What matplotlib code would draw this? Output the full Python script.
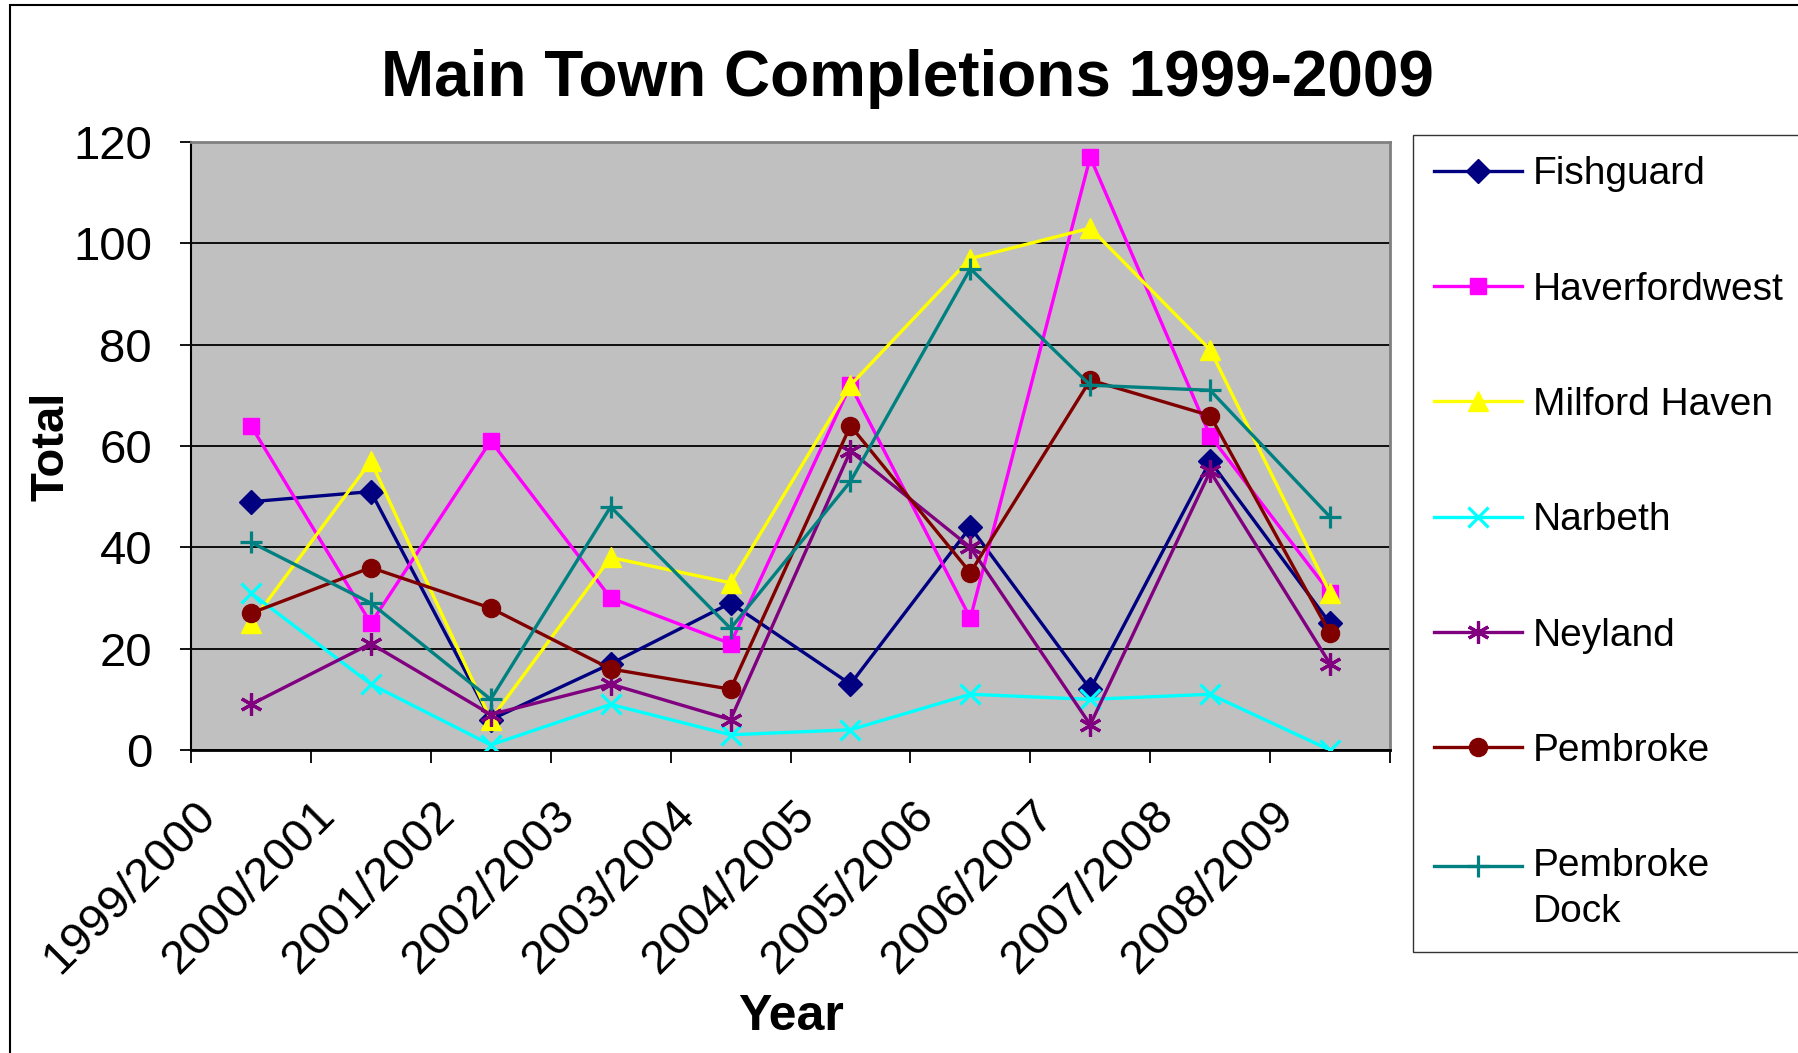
import matplotlib
import matplotlib.pyplot as plt
import matplotlib.transforms as mtransforms
from matplotlib.patches import Rectangle
import numpy as np

matplotlib.use("Agg")

plt.rcParams["font.family"] = ["Liberation Sans", "DejaVu Sans"]

years = ["1999/2000", "2000/2001", "2001/2002", "2002/2003", "2003/2004",
         "2004/2005", "2005/2006", "2006/2007", "2007/2008", "2008/2009"]

fishguard = [49, 51, 6, 17, 29, 13, 44, 12, 57, 25]
haverfordwest = [64, 25, 61, 30, 21, 72, 26, 117, 62, 31]
milford_haven = [25, 57, 6, 38, 33, 72, 97, 103, 79, 31]
narbeth = [31, 13, 1, 9, 3, 4, 11, 10, 11, 0]
neyland = [9, 21, 7, 13, 6, 59, 40, 5, 55, 17]
pembroke = [27, 36, 28, 16, 12, 64, 35, 73, 66, 23]
pembroke_dock = [41, 29, 10, 48, 24, 53, 95, 72, 71, 46]

series = [
    ("Fishguard", fishguard, "#000080", "D", 12, 1),
    ("Haverfordwest", haverfordwest, "#FF00FF", "s", 12, 1),
    ("Milford Haven", milford_haven, "#FFFF00", "^", 14, 1),
    ("Narbeth", narbeth, "#00FFFF", "x", 14, 2.3),
    ("Neyland", neyland, "#800080", (6, 2, 0), 16, 2.3),
    ("Pembroke", pembroke, "#800000", "o", 13, 1),
    ("Pembroke\nDock", pembroke_dock, "#008080", "+", 16, 2.3),
]

W, H = 1798, 1053
fig = plt.figure(figsize=(W / 100, H / 100), dpi=100)
ax = fig.add_axes([191 / W, 1 - 750 / H, (1390 - 191) / W, (750 - 142) / H])
ax.set_facecolor("#C0C0C0")

x = np.arange(len(years))
for name, values, color, marker, ms, mew in series:
    ax.plot(x, values, color=color, lw=2.4, marker=marker, ms=ms,
            mfc=color, mec=color, mew=mew, label=name, zorder=3)

ax.set_xlim(-0.5, len(years) - 0.5)
ax.set_ylim(0, 120)
ax.set_yticks(np.arange(0, 121, 20))
ax.yaxis.grid(True, color="black", lw=1.3)
ax.set_axisbelow(True)

ax.set_xticks(np.arange(-0.5, len(years), 1.0))
ax.set_xticklabels([])
ax.set_xticks(x, minor=True)
ax.set_xticklabels(years, minor=True, rotation=45, ha="right", va="top",
                   rotation_mode="anchor", fontsize=34)
ax.tick_params(axis="x", which="major", length=9, width=1.3, direction="out")
ax.tick_params(axis="x", which="minor", length=0, pad=31)
ax.tick_params(axis="y", length=8, width=1.3, direction="out", labelsize=34, pad=20)

# excel puts the rotated labels a little left of the category centre
shift = mtransforms.ScaledTranslation(-58 / 100, 0, fig.dpi_scale_trans)
for label in ax.get_xticklabels(minor=True):
    label.set_transform(label.get_transform() + shift)

for side in ["top", "right"]:
    ax.spines[side].set_color("#808080")
    ax.spines[side].set_linewidth(2)
ax.spines["left"].set_color("black")
ax.spines["left"].set_linewidth(1.5)
ax.spines["bottom"].set_color("black")
ax.spines["bottom"].set_linewidth(2)

fig.text(907 / W, 1 - 79 / H, "Main Town Completions 1999-2009",
         fontsize=46, fontweight="bold", ha="center", va="center")
fig.text(52 / W, 1 - 446 / H, "Total", fontsize=34, fontweight="bold",
         rotation=90, ha="center", va="center")
fig.text(791 / W, 1 - 1017 / H, "Year", fontsize=36, fontweight="bold",
         ha="center", va="center")

legend = fig.legend(loc="upper left", bbox_to_anchor=(1413 / W, 1 - 135 / H),
                    frameon=True, fancybox=False, fontsize=28, handlelength=2.25,
                    handletextpad=0.28, labelspacing=2.04, borderpad=0.55,
                    borderaxespad=0)
legend.get_frame().set_edgecolor("black")
legend.get_frame().set_linewidth(1)
for text in legend.get_texts():
    text.set_linespacing(1.35)

# keep the two-line entry's line level with its first text line
last = legend.legend_handles[-1]
last.set_transform(last.get_transform()
                   + mtransforms.ScaledTranslation(0, 24 / 100, fig.dpi_scale_trans))

fig.patches.append(Rectangle((10 / W, -0.02), 1.05, 1.02 - 5 / H,
                             transform=fig.transFigure, fill=False,
                             edgecolor="black", lw=1.5))

fig.savefig("out.png", dpi=100)
plt.close(fig)
